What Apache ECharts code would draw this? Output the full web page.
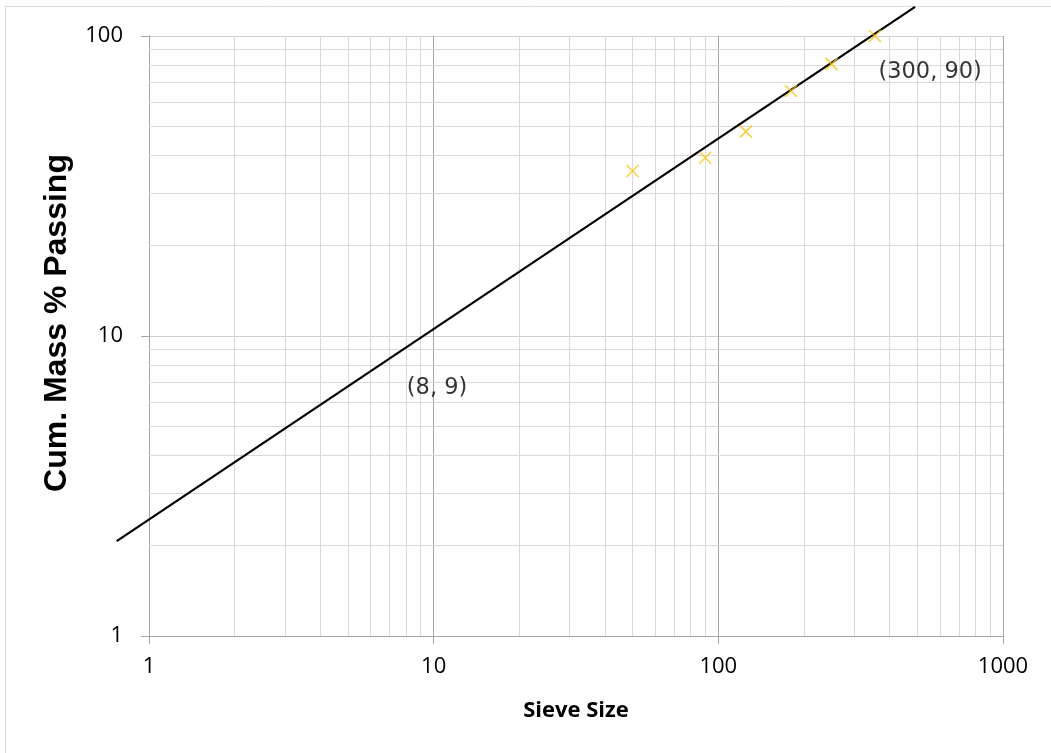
<!DOCTYPE html>
<html>
<head>
<meta charset="utf-8">
<script src="https://cdn.jsdelivr.net/npm/echarts@6/dist/echarts.min.js"></script>
<style>
html,body{margin:0;padding:0;background:#fff;}
#chart{width:1051px;height:753px;}
</style>
</head>
<body>
<div id="chart"></div>
<script>
// ---- data ----
const sieveSize = [50, 90, 125, 180, 250, 355];
const cumPassing = [35.5, 39.3, 48, 65.6, 80.6, 100];
const fitLineX = [0.77, 491];
const fitLineY = [2.07, 125];
const annotX = [300, 8];
const annotY = [90, 9];
const xMinor = [2,3,4,5,6,7,8,9,20,30,40,50,60,70,80,90,200,300,400,500,600,700,800,900];
const yMinor = [2,3,4,5,6,7,8,9,20,30,40,50,60,70,80,90];
const xTitle = 'Sieve Size';
const yTitle = 'Cum. Mass % Passing';

const tickFont = '"Open Sans", Lato, sans-serif';
const annotFont = '"DejaVu Sans", Verdana, sans-serif';

const chart = echarts.init(document.getElementById('chart'), null, {renderer: 'canvas'});

const annotOffsets = [[76, 22], [31, 38]];

chart.setOption({
  animation: false,
  backgroundColor: '#ffffff',
  graphic: [
    {type: 'rect', z: -10, silent: true,
     shape: {x: 5.5, y: 6.5, width: 1200, height: 900},
     style: {fill: 'none', stroke: '#D9D9D9', lineWidth: 1}},
    {type: 'text', silent: true,
     x: 57, y: 323, rotation: Math.PI / 2,
     style: {text: yTitle, fontFamily: '"Liberation Sans", Arial, sans-serif', fontWeight: 'bold',
             fontSize: 32, fill: '#000', align: 'center', verticalAlign: 'middle'}}
  ],
  grid: {left: 149, top: 36, right: 48, bottom: 117, containLabel: false},
  xAxis: {
    type: 'log', logBase: 10, min: 1, max: 1000,
    name: xTitle, nameLocation: 'middle', nameGap: 64,
    nameTextStyle: {fontFamily: tickFont, fontWeight: 'bold', fontSize: 22, color: '#000', verticalAlign: 'top'},
    axisLine: {show: true, lineStyle: {color: '#A6A6A6', width: 1}},
    axisTick: {show: true, length: 8, lineStyle: {color: '#A6A6A6'}},
    axisLabel: {fontFamily: tickFont, fontSize: 22, color: '#000', margin: 20, formatter: v => String(v)},
    splitLine: {show: true, lineStyle: {color: '#A6A6A6', width: 1}},
    minorTick: {show: false}, minorSplitLine: {show: false}
  },
  yAxis: {
    type: 'log', logBase: 10, min: 1, max: 100,
    axisLine: {show: true, lineStyle: {color: '#A6A6A6', width: 1}},
    axisTick: {show: true, length: 8, lineStyle: {color: '#A6A6A6'}},
    axisLabel: {fontFamily: tickFont, fontSize: 22, color: '#000', margin: 26, formatter: v => String(v)},
    splitLine: {show: true, lineStyle: {color: '#D0D0D0', width: 1}},
    minorTick: {show: false}, minorSplitLine: {show: false}
  },
  series: [
    {
      type: 'line', name: 'grid', data: [], silent: true, z: 1,
      markLine: {
        silent: true, symbol: ['none', 'none'], animation: false,
        label: {show: false},
        lineStyle: {color: '#D9D9D9', width: 1, type: 'solid'},
        data: xMinor.map(v => ({xAxis: v})).concat(yMinor.map(v => ({yAxis: v})))
      }
    },
    {
      type: 'custom', name: 'fit', z: 5, clip: false, silent: true,
      data: [[fitLineX[0], fitLineY[0], fitLineX[1], fitLineY[1]]],
      encode: {x: [0, 2], y: [1, 3]},
      renderItem: function (params, api) {
        const p0 = api.coord([api.value(0), api.value(1)]);
        const p1 = api.coord([api.value(2), api.value(3)]);
        return {
          type: 'line',
          shape: {x1: p0[0], y1: p0[1], x2: p1[0], y2: p1[1]},
          style: {stroke: '#000000', lineWidth: 2.2}
        };
      }
    },
    {
      type: 'scatter', name: 'data', z: 6, clip: false,
      data: sieveSize.map((x, i) => [x, cumPassing[i]]),
      symbol: 'path://M0,0L10,10M10,0L0,10', symbolSize: 12,
      itemStyle: {color: 'none', borderColor: '#FFC000', borderWidth: 1.5}
    },
    {
      type: 'scatter', name: 'annot', z: 7, clip: false, silent: true,
      symbolSize: 0,
      data: annotX.map((x, i) => ({
        value: [x, annotY[i]],
        label: {show: true, position: 'inside', offset: annotOffsets[i],
                formatter: '(' + x + ', ' + annotY[i] + ')',
                fontFamily: annotFont, fontSize: 22.5, color: '#000'}
      }))
    }
  ]
});
</script>
</body>
</html>
